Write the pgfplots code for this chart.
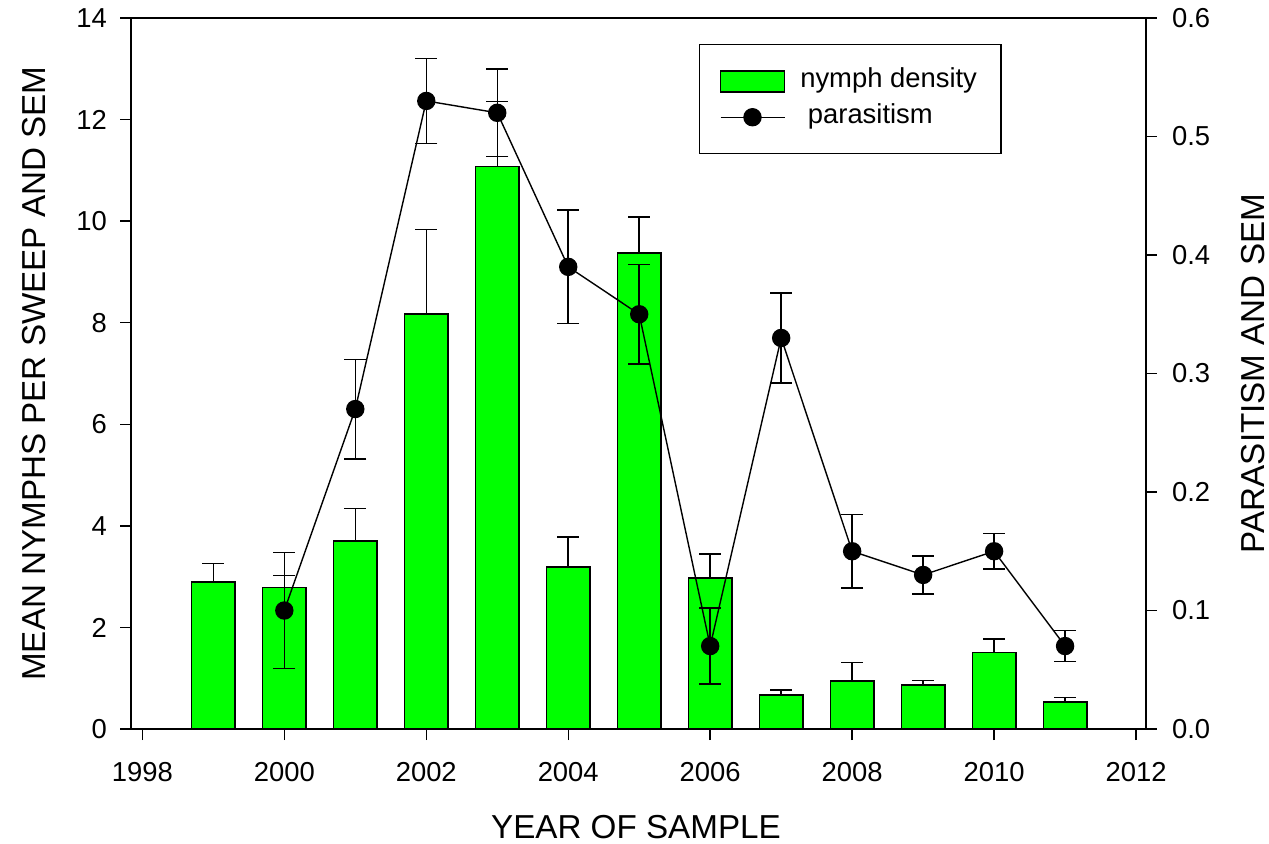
\documentclass[border=0pt]{standalone}
\usepackage{fontspec}
\setmainfont{Liberation Sans}
\usepackage{pgfplots}
\pgfplotsset{compat=1.18}
\usepackage{pgfplotstable}

\definecolor{bargreen}{RGB}{0,255,0}
\newcommand{\labfont}{\fontsize{16.6}{20}\selectfont}

% year, mean nymphs per sweep, sem
\pgfplotstableread{
year  nymph  sem
1999  2.90   0.36
2000  2.79   0.23
2001  3.70   0.64
2002  8.17   1.67
2003  11.08  1.28
2004  3.19   0.59
2005  9.37   0.71
2006  2.97   0.48
2007  0.67   0.10
2008  0.95   0.36
2009  0.87   0.09
2010  1.51   0.26
2011  0.53   0.09
}\nymphtable

% year, parasitism, sem
\pgfplotstableread{
year  par   sem
2000  0.10  0.049
2001  0.27  0.042
2002  0.53  0.036
2003  0.52  0.037
2004  0.39  0.048
2005  0.35  0.042
2006  0.07  0.032
2007  0.33  0.038
2008  0.15  0.031
2009  0.13  0.016
2010  0.15  0.015
2011  0.07  0.013
}\partable

\pgfplotsset{
  common/.style={
    scale only axis,
    width=507.5pt, height=355.5pt,
    xmin=1997.84, xmax=2012.14,
    tick align=outside,
    major tick length=5.5pt,
    every tick/.style={black, line width=0.7pt},
    axis line style={line width=0.7pt},
    tick label style={font=\fontsize{13.7}{16}\selectfont},
    /pgf/number format/assume math mode=true,
  },
  barlegend/.style={legend image code/.code={\draw[#1] (0pt,-5.25pt) rectangle (32pt,5.25pt);}},
  linelegend/.style={legend image code/.code={\draw[mark repeat=2, mark phase=2, #1] plot coordinates {(0pt,0pt) (16pt,0pt) (32pt,0pt)};}},
  errstyle/.style={
    error bar style={line width=0.75pt, black},
    error mark options={rotate=90, mark size=5.5pt, line width=0.75pt, black},
  },
}

\begin{document}
\begin{tikzpicture}
\useasboundingbox (-65.5pt,-57pt) rectangle (569pt,364.5pt);

\begin{axis}[
  common,
  ybar, bar width=0.61,
  ymin=0, ymax=14,
  ytick={0,2,...,14},
  xtick={1998,2000,...,2012},
  xtick pos=left, ytick pos=left,
  xticklabel style={/pgf/number format/1000 sep={}, yshift=-7.5pt},
  yticklabel style={xshift=-3pt},
  every axis x label/.style={at={(axis description cs:0.4975,-0.1533)}, anchor=base, font=\labfont, inner sep=0pt},
  every axis y label/.style={at={(axis description cs:-0.0847,0.5)}, rotate=90, anchor=base, font=\labfont, inner sep=0pt},
  xlabel={YEAR OF SAMPLE},
  ylabel={MEAN NYMPHS PER SWEEP AND SEM},
]
\addplot[fill=bargreen, draw=black, line width=0.8pt,
  error bars/.cd, y dir=plus, y explicit, /pgfplots/errstyle]
  table[x=year, y=nymph, y error=sem] {\nymphtable};
\end{axis}

\begin{axis}[
  common,
  ymin=0, ymax=0.6,
  ytick={0,0.1,...,0.6},
  axis y line*=right,
  axis x line=none,
  yticklabel style={/pgf/number format/.cd, fixed, fixed zerofill, precision=1, /tikz/xshift=4pt},
  every axis y label/.style={at={(axis description cs:1.1172,0.5)}, rotate=90, anchor=base, font=\labfont, inner sep=0pt},
  ylabel={PARASITISM AND SEM},
  legend style={
    at={(axis description cs:0.5596,0.9634)}, anchor=north west,
    draw=black, line width=0.7pt,
    font=\fontsize{13.7}{16}\selectfont,
    inner xsep=10pt, inner ysep=10pt, row sep=1.5pt, column sep=5.5pt,
    nodes={text height=9.5pt, text depth=3pt, inner sep=2pt},
  },
  legend cell align=left,
]
\addlegendimage{fill=bargreen, draw=black, line width=0.8pt, barlegend}
\addlegendentry{nymph density}
\addplot[black, line width=0.7pt, mark=*, mark size=4.25pt, mark options={fill=black, solid},
  linelegend,
  error bars/.cd, y dir=both, y explicit, /pgfplots/errstyle]
  table[x=year, y=par, y error=sem] {\partable};
\addlegendentry{\ parasitism}
\end{axis}
\end{tikzpicture}
\end{document}
